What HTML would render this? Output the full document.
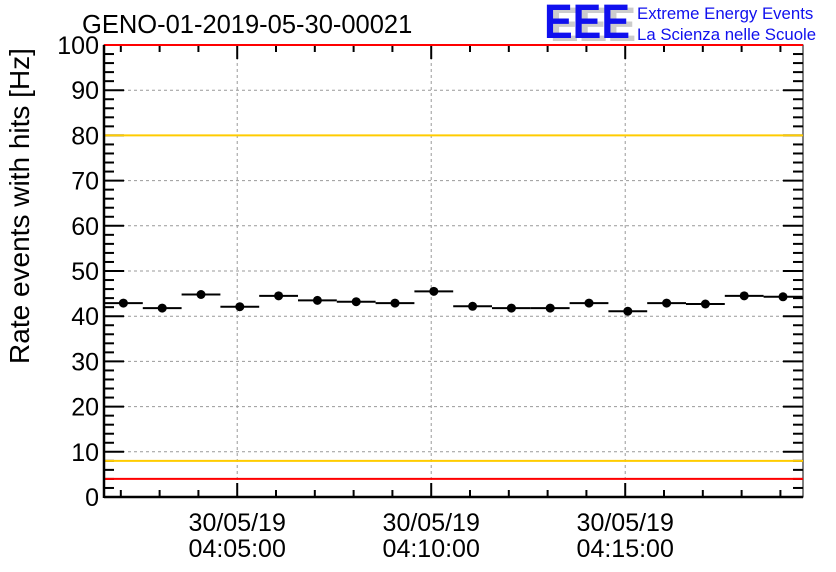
<!DOCTYPE html>
<html><head><meta charset="utf-8"><style>
body{margin:0;background:#fff}
svg{display:block;font-family:"Liberation Sans",sans-serif}
</style></head><body>
<svg id="c" width="836" height="572">
<rect width="836" height="572" fill="#fff"/>
<text x="82" y="33" font-size="25.5" fill="#000">GENO-01-2019-05-30-00021</text>
<g>
<text x="550" y="41" font-size="48" font-weight="bold" fill="#ccc" textLength="86" lengthAdjust="spacingAndGlyphs">EEE</text>
<text x="544" y="38" font-size="48" font-weight="bold" fill="#1010ee" textLength="86" lengthAdjust="spacingAndGlyphs">EEE</text>
<text x="637" y="19" font-size="16.8" fill="#1010ee">Extreme Energy Events</text>
<text x="637" y="40" font-size="16.8" fill="#1010ee">La Scienza nelle Scuole</text>
</g>
<text transform="translate(29,206) rotate(-90)" text-anchor="middle" font-size="28">Rate events with hits [Hz]</text>
<g id="plot"></g>
</svg>
<script>
const values=[42.9,41.8,44.8,42.1,44.5,43.5,43.2,42.9,45.5,42.2,41.8,41.8,42.9,41.1,42.9,42.7,44.5,44.3];
const yTicks=[0,10,20,30,40,50,60,70,80,90,100];
const xTickMinutes=[5,10,15];
const xTickLabels=[["30/05/19","04:05:00"],["30/05/19","04:10:00"],["30/05/19","04:15:00"]];
const startMin=1+34/60; // 04:01:34
const binMin=1;
const thresholds=[{v:100,c:"#ff0000",n:"upper-red-limit"},{v:4,c:"#ff0000",n:"lower-red-limit"},{v:80,c:"#ffcc00",n:"upper-yellow-limit"},{v:8,c:"#ffcc00",n:"lower-yellow-limit"}];

const L=104,R=803,T=45,B=497;
const ymax=100;
const y=v=>B-(v/ymax)*(B-T);
const pxPerMin=38.8;
const x=m=>L+(m-startMin)*pxPerMin;
const g=document.getElementById('plot');
const NS="http://www.w3.org/2000/svg";
function el(t,a){const e=document.createElementNS(NS,t);for(const k in a)e.setAttribute(k,a[k]);g.appendChild(e);return e;}

yTicks.forEach(v=>{if(v>0&&v<100){const e=el('line',{x1:L,x2:R,y1:y(v),y2:y(v),stroke:'#999','stroke-dasharray':'3,3'});

}});
xTickMinutes.forEach(m=>{const e=el('line',{x1:x(m),x2:x(m),y1:T,y2:B,stroke:'#999','stroke-dasharray':'3,3'});

});
const f=el('rect',{x:L,y:T,width:R-L,height:B-T,fill:'none',stroke:'#000','stroke-width':1});


for(let v=0;v<=100;v+=2){const major=v%10===0;const len=major?20:10;
el('line',{x1:L,x2:L+len,y1:y(v),y2:y(v),stroke:'#000','stroke-width':2});
el('line',{x1:R,x2:R-len,y1:y(v),y2:y(v),stroke:'#000','stroke-width':2});}
for(let m=2;m<=19;m++){if(x(m)>R)break;const major=xTickMinutes.includes(m);const len=major?14:7;
el('line',{x1:x(m),x2:x(m),y1:B,y2:B-len,stroke:'#000','stroke-width':2});
el('line',{x1:x(m),x2:x(m),y1:T,y2:T+len,stroke:'#000','stroke-width':2});}
thresholds.forEach(t=>{const e=el('line',{x1:L,x2:R,y1:y(t.v),y2:y(t.v),stroke:t.c,'stroke-width':2});

});
const ax=el('line',{x1:L,x2:L,y1:T,y2:B+1,stroke:'#000','stroke-width':2.5});


const bx=el('line',{x1:L,x2:R,y1:B,y2:B,stroke:'#000','stroke-width':2.5});


yTicks.forEach(v=>{const t=el('text',{x:L-5,y:y(v)+9,'text-anchor':'end','font-size':25});t.textContent=v;

});
xTickMinutes.forEach((m,i)=>{xTickLabels[i].forEach((s,j)=>{const t=el('text',{x:x(m),y:531+j*26,'text-anchor':'middle','font-size':25});t.textContent=s;

});});
values.forEach((v,i)=>{const m0=startMin+i*binMin,m1=m0+binMin;
const l=el('line',{x1:x(m0),x2:x(m1),y1:y(v),y2:y(v),stroke:'#000','stroke-width':2});


const c=el('circle',{cx:(x(m0)+x(m1))/2,cy:y(v),r:4.5,fill:'#000'});

});
</script>
</body></html>
